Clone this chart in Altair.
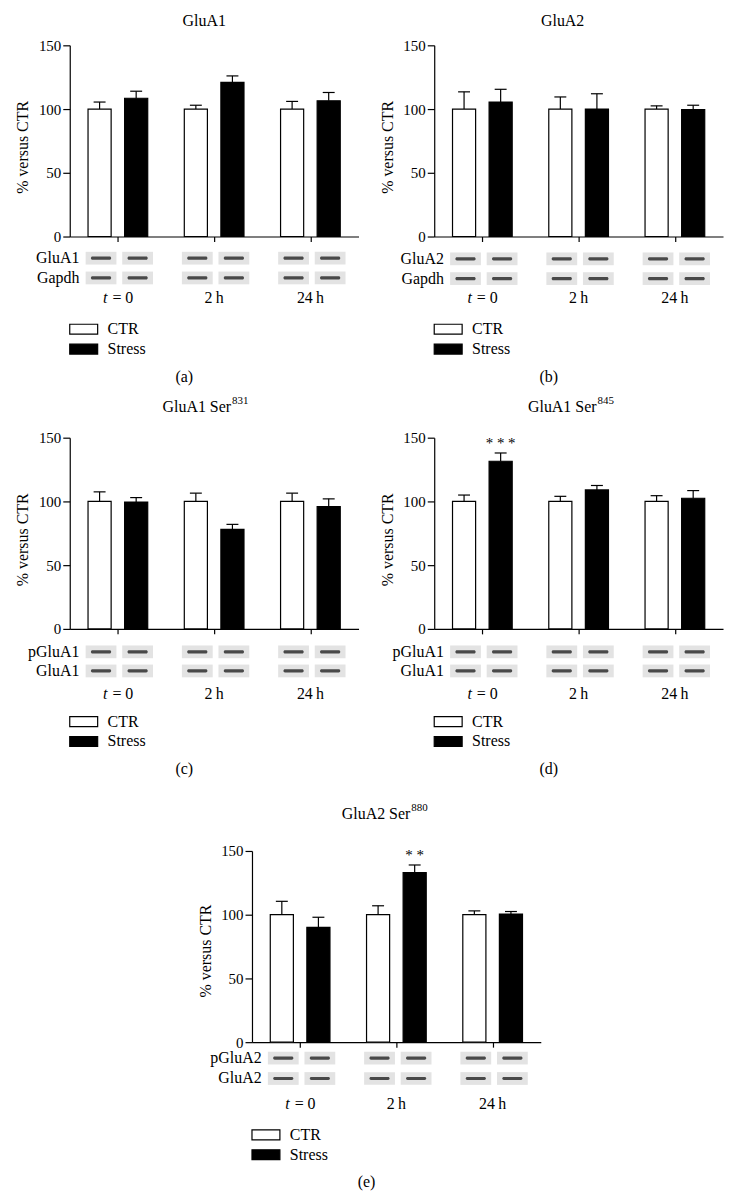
import altair as alt
import pandas as pd

FONT = "Liberation Serif"

conditions = ["CTR", "Stress"]
time_labels = ["t = 0", "2\u2009h", "24\u2009h"]

# (a) GluA1
a_ctr = [100, 100, 100]
a_ctr_err = [5.5, 3.0, 6.0]
a_stress = [108.5, 121.0, 106.5]
a_stress_err = [5.5, 5.0, 6.5]
a_blots = ["GluA1", "Gapdh"]

# (b) GluA2
b_ctr = [100, 100, 100]
b_ctr_err = [13.5, 9.5, 2.5]
b_stress = [105.5, 100.0, 99.5]
b_stress_err = [10.0, 12.0, 3.5]
b_blots = ["GluA2", "Gapdh"]

# (c) GluA1 Ser831
c_ctr = [100, 100, 100]
c_ctr_err = [7.5, 6.5, 6.5]
c_stress = [99.5, 78.0, 96.0]
c_stress_err = [3.5, 4.0, 6.0]
c_blots = ["pGluA1", "GluA1"]

# (d) GluA1 Ser845
d_ctr = [100, 100, 100]
d_ctr_err = [5.0, 4.0, 4.5]
d_stress = [131.5, 109.0, 102.5]
d_stress_err = [6.5, 3.5, 6.0]
d_blots = ["pGluA1", "GluA1"]
d_sig = ["* * *", "", ""]

# (e) GluA2 Ser880
e_ctr = [100, 100, 100]
e_ctr_err = [10.5, 7.0, 3.0]
e_stress = [90.0, 133.0, 100.5]
e_stress_err = [8.0, 6.0, 2.0]
e_blots = ["pGluA2", "GluA2"]
e_sig = ["", "* *", ""]

BAR_OFF = 0.19
BAR_HW = 0.12
CAP_HW = 0.062
BOX_DX = 0.015
BOX_HW = 0.16
BOX_HH = 5.0
BAND_HW = 0.105
BAND_HH = 1.25
W = 290

fill_scale = alt.Scale(domain=conditions, range=["white", "black"])


def make_panel(ctr, ctr_err, stress, stress_err, blot_names, title, sup, sig, label,
               title_x, title_y, blot_y, time_y, xrange=None, yrange=None,
               height=192, axis_offset=0, title_dy=102):
    xs_kw = dict(domain=[-0.5, 2.5], nice=False, zero=False)
    if xrange:
        xs_kw["range"] = xrange
    ys_kw = dict(domain=[0, 150], nice=False, zero=False)
    if yrange:
        ys_kw["range"] = yrange
    xs = alt.Scale(**xs_kw)
    ys = alt.Scale(**ys_kw)

    xaxis = alt.Axis(values=[0, 1, 2], labels=False, title="", grid=False, ticks=True,
                     tickSize=5, tickColor="black", tickWidth=1.2,
                     domainColor="black", domainWidth=1.2)
    yaxis = alt.Axis(values=[0, 50, 100, 150], title="% versus CTR", grid=False,
                     tickSize=7, tickColor="black", tickWidth=1.2,
                     domainColor="black", domainWidth=1.2,
                     labelFont=FONT, labelFontSize=15, labelColor="black", labelPadding=2,
                     titleFont=FONT, titleFontSize=16, titleFontWeight="normal",
                     titleColor="black", titleX=-47, titleY=title_dy, titleAngle=270,
                     titleAlign="center", titleBaseline="middle", offset=axis_offset)

    def X(f):
        return alt.X(f, type="quantitative", scale=xs, axis=xaxis)

    def Y(f):
        return alt.Y(f, type="quantitative", scale=ys, axis=yaxis)

    rows = []
    for g in range(3):
        pairs = [(ctr[g], ctr_err[g]), (stress[g], stress_err[g])]
        for ci, (m, e) in enumerate(pairs):
            xc = g + (-BAR_OFF if ci == 0 else BAR_OFF)
            rows.append(dict(cond=conditions[ci], xc=xc, x1=xc - BAR_HW, x2=xc + BAR_HW,
                             base=0, mean=m, top=m + e, c1=xc - CAP_HW, c2=xc + CAP_HW))
    bars = pd.DataFrame(rows)

    bar_layer = alt.Chart(bars).mark_rect(stroke="black", strokeWidth=1.2).encode(
        x=X("x1"), x2="x2:Q", y=Y("base"), y2="mean:Q",
        fill=alt.Fill("cond:N", scale=fill_scale, legend=None),
    )
    stem = alt.Chart(bars).mark_rule(color="black", strokeWidth=1.2).encode(
        x=X("xc"), y=Y("mean"), y2="top:Q")
    cap = alt.Chart(bars).mark_rule(color="black", strokeWidth=1.2).encode(
        x=X("c1"), x2="c2:Q", y=Y("top"))

    # western blot strips
    bl = []
    for r, name in enumerate(blot_names):
        for g in range(3):
            for ci in range(2):
                xc = g + (-BAR_OFF if ci == 0 else BAR_OFF) + BOX_DX
                bl.append(dict(x1=xc - BOX_HW, x2=xc + BOX_HW,
                               y1=blot_y[r] - BOX_HH, y2=blot_y[r] + BOX_HH,
                               b1=xc - BAND_HW, b2=xc + BAND_HW,
                               c1=blot_y[r] - BAND_HH, c2=blot_y[r] + BAND_HH))
    bl = pd.DataFrame(bl)
    boxes = alt.Chart(bl).mark_rect(fill="#e3e3e3").encode(
        x=X("x1"), x2="x2:Q", y=Y("y1"), y2="y2:Q")
    bands = alt.Chart(bl).mark_rect(fill="#2e2e2e", cornerRadius=1.5, opacity=0.85).encode(
        x=X("b1"), x2="b2:Q", y=Y("c1"), y2="c2:Q")
    blab = pd.DataFrame(dict(txt=blot_names, x=[-0.4, -0.4], y=blot_y))
    blot_labels = alt.Chart(blab).mark_text(align="right", baseline="middle", font=FONT,
                                            fontSize=16, color="black").encode(
        x=X("x"), y=Y("y"), text="txt:N")

    # time labels
    first = time_labels[0].split(" ", 1)
    tl_it = alt.Chart(pd.DataFrame(dict(txt=[first[0]], x=[-0.109], y=[time_y]))).mark_text(
        align="right", baseline="middle", font=FONT, fontSize=16, fontStyle="italic",
        color="black").encode(x=X("x"), y=Y("y"), text="txt:N")
    tl_0 = alt.Chart(pd.DataFrame(dict(txt=[first[1]], x=[-0.057], y=[time_y]))).mark_text(
        align="left", baseline="middle", font=FONT, fontSize=16, color="black").encode(
        x=X("x"), y=Y("y"), text="txt:N")
    tl_rest = alt.Chart(pd.DataFrame(dict(txt=time_labels[1:], x=[1, 2], y=[time_y, time_y]))).mark_text(
        align="center", baseline="middle", font=FONT, fontSize=16, color="black").encode(
        x=X("x"), y=Y("y"), text="txt:N")

    # legend
    leg = pd.DataFrame(dict(cond=conditions, x1=[-0.5, -0.5], x2=[-0.21, -0.21],
                            yc=[-72.7, -88.3], tx=[-0.107, -0.107]))
    leg["y1"] = leg["yc"] - 3.9
    leg["y2"] = leg["yc"] + 3.9
    leg_box = alt.Chart(leg).mark_rect(stroke="black", strokeWidth=1.2).encode(
        x=X("x1"), x2="x2:Q", y=Y("y1"), y2="y2:Q",
        fill=alt.Fill("cond:N", scale=fill_scale, legend=None))
    leg_txt = alt.Chart(leg).mark_text(align="left", baseline="middle", font=FONT,
                                       fontSize=16, color="black").encode(
        x=X("tx"), y=Y("yc"), text="cond:N")

    # panel label
    plab = alt.Chart(pd.DataFrame(dict(txt=[label], x=[0.69], y=[-110]))).mark_text(
        align="center", baseline="middle", font=FONT, fontSize=16, color="black").encode(
        x=X("x"), y=Y("y"), text="txt:N")

    layers = [bar_layer, stem, cap, boxes, bands, blot_labels, tl_it, tl_0, tl_rest,
              leg_box, leg_txt, plab]

    # title
    if sup:
        t_main = alt.Chart(pd.DataFrame(dict(txt=[title], x=[title_x], y=[title_y]))).mark_text(
            align="right", baseline="middle", font=FONT, fontSize=16, color="black").encode(
            x=X("x"), y=Y("y"), text="txt:N")
        t_sup = alt.Chart(pd.DataFrame(dict(txt=[sup], x=[title_x], y=[title_y]))).mark_text(
            align="left", baseline="middle", font=FONT, fontSize=11, dy=-6, dx=1,
            color="black").encode(x=X("x"), y=Y("y"), text="txt:N")
        layers += [t_main, t_sup]
    else:
        t_main = alt.Chart(pd.DataFrame(dict(txt=[title], x=[title_x], y=[title_y]))).mark_text(
            align="center", baseline="middle", font=FONT, fontSize=16, color="black").encode(
            x=X("x"), y=Y("y"), text="txt:N")
        layers += [t_main]

    if sig:
        sd = bars[bars["cond"] == "Stress"].copy().reset_index(drop=True)
        sd["txt"] = sig
        sd = sd[sd["txt"] != ""]
        sd["ys"] = sd["top"] + 8
        sig_l = alt.Chart(sd).mark_text(align="center", baseline="middle", font=FONT,
                                        fontSize=15, color="black").encode(
            x=X("xc"), y=Y("ys"), text="txt:N")
        layers.append(sig_l)

    return alt.layer(*layers).properties(width=W, height=height)


pa = make_panel(a_ctr, a_ctr_err, a_stress, a_stress_err, a_blots, "GluA1", None, None, "(a)",
                0.897, 169, [-17, -32.5], -48.5)
pb = make_panel(b_ctr, b_ctr_err, b_stress, b_stress_err, b_blots, "GluA2", None, None, "(b)",
                0.834, 169, [-17.5, -33], -48.5)
pc = make_panel(c_ctr, c_ctr_err, c_stress, c_stress_err, c_blots, "GluA1 Ser", "831", None, "(c)",
                1.176, 174, [-18, -33], -51)
pd_ = make_panel(d_ctr, d_ctr_err, d_stress, d_stress_err, d_blots, "GluA1 Ser", "845", d_sig, "(d)",
                 1.186, 174, [-18, -33], -51)
pe = make_panel(e_ctr, e_ctr_err, e_stress, e_stress_err, e_blots, "GluA2 Ser", "880", e_sig, "(e)",
                1.145, 178.8, [-12.5, -28.5], -48.5,
                xrange=[183, 473], yrange=[213, 21], height=213, axis_offset=-183, title_dy=121)

chart = alt.concat(pa, pb, pc, pd_, pe, columns=2,
                   spacing={"row": 202, "column": 76}, bounds="flush", align="each")
chart = chart.properties(
    padding={"left": 7, "top": 2, "right": 5, "bottom": 5}
).configure(font=FONT).configure_view(strokeWidth=0, stroke="transparent")

chart.save("out.html", embed_options={"renderer": "svg", "actions": False})
